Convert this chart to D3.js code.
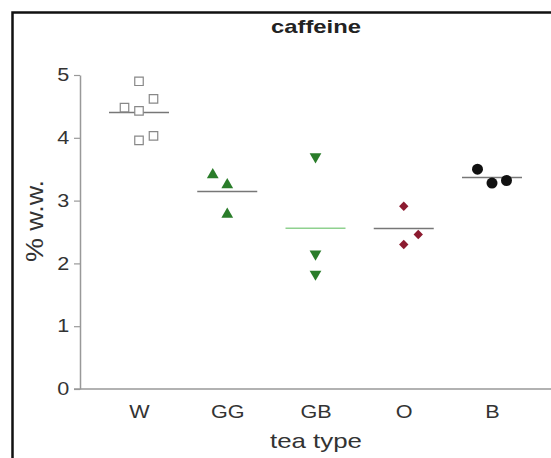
<!DOCTYPE html>
<html>
<head>
<meta charset="utf-8">
<script src="https://cdn.jsdelivr.net/npm/d3@7"></script>
<style>
  body { margin: 0; background: #fff; }
  svg { display: block; font-family: "Liberation Sans", Arial, sans-serif; }
</style>
</head>
<body>
<div id="chart"></div>
<script>
// Tea types on the x axis
const categories = ['W', 'GG', 'GB', 'O', 'B'];

// Caffeine content (% w.w.), one array per tea type
const caffeineW = [4.90, 4.48, 4.43, 4.62, 3.96, 4.03];
const caffeineGG = [3.41, 3.25, 2.78];
const caffeineGB = [3.70, 2.15, 1.83];
const caffeineO = [2.91, 2.46, 2.30];
const caffeineB = [3.50, 3.28, 3.32];

// Side-by-side slot of each point (-1 left, 0 centre, 1 right)
const slotW = [0, -1, 0, 1, 0, 1];
const slotGG = [-1, 0, 0];
const slotGB = [0, 0, 0];
const slotO = [0, 1, 0];
const slotB = [-1, 0, 1];

const yTicks = [0, 1, 2, 3, 4, 5];

const svgWidth = 551, svgHeight = 458;

const svg = d3.select('#chart')
  .append('svg')
  .attr('width', svgWidth)
  .attr('height', svgHeight);

// Frame round the figure (runs off the right and bottom edges)
svg.append('rect')
  .attr('x', 12.5)
  .attr('y', 12.5)
  .attr('width', 620)
  .attr('height', 520)
  .attr('fill', 'none')
  .attr('stroke', '#111')
  .attr('stroke-width', 2.5);

// Scales
const xScale = d3.scalePoint().domain(categories).range([139, 492]);
const yScale = d3.scaleLinear().domain([0, 5]).range([389, 75]);
const slotScale = d3.scaleLinear().domain([-1, 1]).range([-14.5, 14.5]);

const axisColor = '#999';
const textColor = '#333';
const stretch = 1.2; // the source picture is widened a bit

// Y axis
const yAxis = svg.append('g')
  .attr('transform', `translate(80, 0)`)
  .call(d3.axisLeft(yScale).tickValues(yTicks).tickFormat(d3.format('d'))
    .tickSize(6).tickSizeOuter(0).tickPadding(3));
yAxis.select('.domain').attr('stroke', axisColor).attr('stroke-width', 1.5);
yAxis.selectAll('line').attr('stroke', axisColor).attr('stroke-width', 1.2);
yAxis.selectAll('text')
  .attr('fill', textColor)
  .style('font-size', '18px')
  .attr('transform', `scale(${stretch},1)`);

// X axis line (starts at the zero tick, runs past the edge)
svg.append('line')
  .attr('x1', 74)
  .attr('x2', svgWidth + 10)
  .attr('y1', yScale(0))
  .attr('y2', yScale(0))
  .attr('stroke', axisColor)
  .attr('stroke-width', 1.5);

const xAxis = svg.append('g')
  .attr('transform', `translate(0, ${yScale(0)})`)
  .call(d3.axisBottom(xScale).tickSize(0).tickPadding(16));
xAxis.select('.domain').remove();
xAxis.selectAll('text')
  .attr('fill', textColor)
  .style('font-size', '18px')
  .attr('transform', `scale(${stretch},1)`);

// Series table built from the arrays above
const series = [
  { name: 'W', values: caffeineW, slots: slotW, symbol: d3.symbolSquare, size: 72, fill: '#fff', stroke: '#888', rotate: 0, meanColor: '#777' },
  { name: 'GG', values: caffeineGG, slots: slotGG, symbol: d3.symbolTriangle, size: 60, fill: '#2a7d2a', stroke: 'none', rotate: 0, meanColor: '#777' },
  { name: 'GB', values: caffeineGB, slots: slotGB, symbol: d3.symbolTriangle, size: 60, fill: '#2a7d2a', stroke: 'none', rotate: 180, meanColor: '#8fd18f' },
  { name: 'O', values: caffeineO, slots: slotO, symbol: d3.symbolSquare, size: 44, fill: '#8c1b30', stroke: 'none', rotate: 45, meanColor: '#777' },
  { name: 'B', values: caffeineB, slots: slotB, symbol: d3.symbolCircle, size: 95, fill: '#111', stroke: 'none', rotate: 0, meanColor: '#777' }
];

const plot = svg.append('g');

// Mean lines
plot.selectAll('line.mean')
  .data(series)
  .enter()
  .append('line')
  .attr('class', 'mean')
  .attr('x1', d => xScale(d.name) - 30)
  .attr('x2', d => xScale(d.name) + 30)
  .attr('y1', d => yScale(d3.mean(d.values)))
  .attr('y2', d => yScale(d3.mean(d.values)))
  .attr('stroke', d => d.meanColor)
  .attr('stroke-width', 1.5);

// Points
series.forEach(s => {
  const points = s.values.map((v, i) => ({ value: v, slot: s.slots[i] }));
  plot.append('g')
    .selectAll('path')
    .data(points)
    .enter()
    .append('path')
    .attr('d', d3.symbol().type(s.symbol).size(s.size))
    .attr('transform', d => `translate(${xScale(s.name) + slotScale(d.slot)}, ${yScale(d.value)}) rotate(${s.rotate})`)
    .attr('fill', s.fill)
    .attr('stroke', s.stroke)
    .attr('stroke-width', 1.2);
});

// Title
svg.append('text')
  .attr('x', 316)
  .attr('y', 33)
  .attr('text-anchor', 'middle')
  .attr('textLength', 90)
  .attr('lengthAdjust', 'spacingAndGlyphs')
  .style('font-size', '19px')
  .style('font-weight', 'bold')
  .attr('fill', '#222')
  .text('caffeine');

// X axis label
svg.append('text')
  .attr('x', 316)
  .attr('y', 448)
  .attr('text-anchor', 'middle')
  .attr('textLength', 92)
  .attr('lengthAdjust', 'spacingAndGlyphs')
  .style('font-size', '21px')
  .attr('fill', textColor)
  .text('tea type');

// Y axis label
svg.append('text')
  .attr('transform', `translate(43, 221) rotate(-90)`)
  .attr('text-anchor', 'middle')
  .attr('textLength', 82)
  .attr('lengthAdjust', 'spacingAndGlyphs')
  .style('font-size', '23px')
  .attr('fill', textColor)
  .text('% w.w.');
</script>
</body>
</html>
